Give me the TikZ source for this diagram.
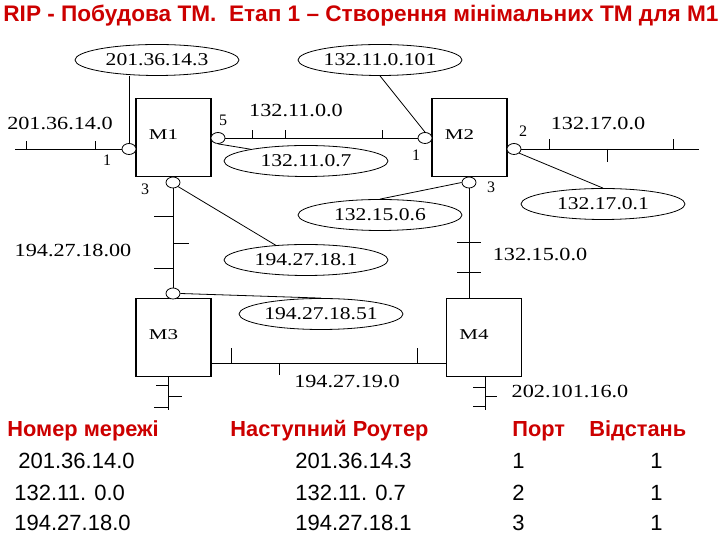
\documentclass[tikz,border=0pt]{standalone}
\usepackage{fontspec}
\usepackage{graphicx}
\setmainfont{Liberation Serif}
\newfontfamily\netfont[FakeStretch=1.2]{Liberation Serif}
\newfontfamily\boxfont[FakeStretch=1.4]{Liberation Serif}
\newfontfamily\tabfont{Liberation Sans}
\usetikzlibrary{shapes.geometric,calc}

\definecolor{hdred}{RGB}{204,0,0}

\tikzset{
  router/.style={draw, line width=1.2pt, minimum width=75pt, minimum height=78pt, inner sep=0pt},
  port/.style={draw, ellipse, minimum width=14pt, minimum height=11pt, inner sep=0pt, fill=white},
  addr/.style={draw, ellipse, minimum width=164pt, minimum height=31pt, inner sep=0pt,
    font=\netfont\fontsize{18}{20}\selectfont},
  netlbl/.style={font=\netfont\fontsize{18.5}{20}\selectfont, inner sep=0pt},
  portno/.style={font=\fontsize{16}{17}\selectfont, inner sep=0pt},
  mlbl/.style={font=\boxfont\fontsize{15}{16}\selectfont, xshift=-10pt, yshift=3pt},
  tabhead/.style={font=\tabfont\bfseries\fontsize{21.8}{24}\selectfont, text=hdred, inner sep=0pt, anchor=base west},
  tabcell/.style={font=\tabfont\fontsize{22}{24}\selectfont, inner sep=0pt, anchor=base west},
}

\begin{document}
\begin{tikzpicture}[x=1pt, y=1pt, line width=0.8pt]
    \useasboundingbox (0,0) rectangle (720,540);
    \node[anchor=base west, inner sep=0pt, text=hdred] (title) at (3,518)
      {\resizebox{715pt}{16.5pt}{\tabfont\bfseries RIP - Побудова ТМ.\ \ Етап 1 – Створення мінімальних ТМ для М1}};

    % routers
    \node[router, label={[mlbl]center:M1}] (M1) at (173.5,402.5) {};
    \node[router, label={[mlbl]center:M2}] (M2) at (469.5,402.5) {};
    \node[router, label={[mlbl]center:M3}] (M3) at (173.5,202.5) {};
    \node[router, label={[mlbl]center:M4}] (M4) at (484,202.5) {};

    % ports
    \node[port] (m1p1) at (129,391) {};
    \node[port] (m1p5) at (218,402) {};
    \node[port] (m1p3) at (173,357.5) {};
    \node[port] (m2p1) at (425,402) {};
    \node[port] (m2p2) at (514,391) {};
    \node[port] (m2p3) at (469,357.5) {};
    \node[port] (m3p) at (173,246.5) {};
    \node[portno] (n11) at (107,380) {1};
    \node[portno] (n15) at (223,420) {5};
    \node[portno] (n13) at (145,351) {3};
    \node[portno] (n21) at (416,385) {1};
    \node[portno] (n22) at (523,409) {2};
    \node[portno] (n23) at (491,353) {3};

    % networks
    \coordinate (w1) at (15,391);
    \draw (w1) -- (m1p1.west);
    \draw (26,391) -- ++(0,8) (95,391) -- ++(0,8);
    \draw (m1p5.east) -- (m2p1.west);
    \foreach \x in {252,285,382} \draw (\x,402) -- ++(0,8);
    \coordinate (e2) at (699,391);
    \draw (m2p2.east) -- (e2);
    \draw (549,391) -- ++(0,10) (673,391) -- ++(0,10) (607,391) -- ++(0,-13);
    \draw (m1p3.south) -- (m3p.north);
    \draw (173,324) -- ++(-19,0) (173,297) -- ++(16,0) (173,272) -- ++(-19,0);
    \draw (m2p3.south) -- (m2p3.south |- M4.north);
    \draw (457,298) -- ++(24,0) (457,268) -- ++(24,0);
    \draw ([yshift=-25.5pt]M3.east) -- ([yshift=-25.5pt]M4.west);
    \draw (231,177) -- ++(0,15) (417,177) -- ++(0,15) (279,177) -- ++(0,-12);
    \coordinate (d3) at (168,130);
    \draw (M3.south -| d3) -- (d3);
    \draw (168,155) -- ++(-12,0) (168,144) -- ++(14,0) (168,133) -- ++(-14,0);
    \coordinate (d4) at (485,130);
    \draw (M4.south -| d4) -- (d4);
    \draw (485,153) -- ++(-12,0) (485,144) -- ++(12,0) (485,134) -- ++(-12,0);

    \node[netlbl] (net1) at (60,417) {201.36.14.0};
    \node[netlbl] (net2) at (296,430) {132.11.0.0};
    \node[netlbl] (net3) at (598,417) {132.17.0.0};
    \node[netlbl] (net4) at (73,290) {194.27.18.00};
    \node[netlbl] (net5) at (540,286) {132.15.0.0};
    \node[netlbl] (net6) at (347,159) {194.27.19.0};
    \node[netlbl] (net7) at (570,149) {202.101.16.0};

    % neighbour addresses
    \node[addr] (a1) at (157,480) {201.36.14.3};
    \node[addr] (a2) at (380,480) {132.11.0.101};
    \node[addr] (a3) at (306,379) {132.11.0.7};
    \node[addr] (a4) at (603,336) {132.17.0.1};
    \node[addr] (a5) at (380,325) {132.15.0.6};
    \node[addr] (a6) at (306,280) {194.27.18.1};
    \node[addr] (a7) at (321,226) {194.27.18.51};
    \draw (m1p1.north) -- (m1p1.north |- a1.south);
    \draw (a2.south) -- (m2p1.north);
    \draw (m1p5.south) -- (a3.168);
    \draw (m2p2.south east) -- (a4.north);
    \draw (m2p3.west) -- (a5.north);
    \draw (m1p3.south east) -- (a6.154);
    \draw (m3p.east) -- (a7.north);

    % routing table
    \node[tabhead] (h1) at (7,103) {Номер мережі};
    \node[tabhead] (h2) at (230,103) {Наступний Роутер};
    \node[tabhead] (h3) at (512,103) {Порт};
    \node[tabhead] (h4) at (589,103) {Відстань};
    \foreach \xa/\net/\hop/\prt/\y in {18/201.36.14.0/201.36.14.3/1/71,
        14/132.11. 0.0/132.11. 0.7/2/39, 14/194.27.18.0/194.27.18.1/3/9} {
      \node[tabcell] (net\prt) at (\xa,\y) {\net};
      \node[tabcell] (hop\prt) at (295,\y) {\hop};
      \node[tabcell] (prt\prt) at (512,\y) {\prt};
      \node[tabcell, anchor=base east] (dst\prt) at (663,\y) {1};
    }
\end{tikzpicture}
\end{document}
